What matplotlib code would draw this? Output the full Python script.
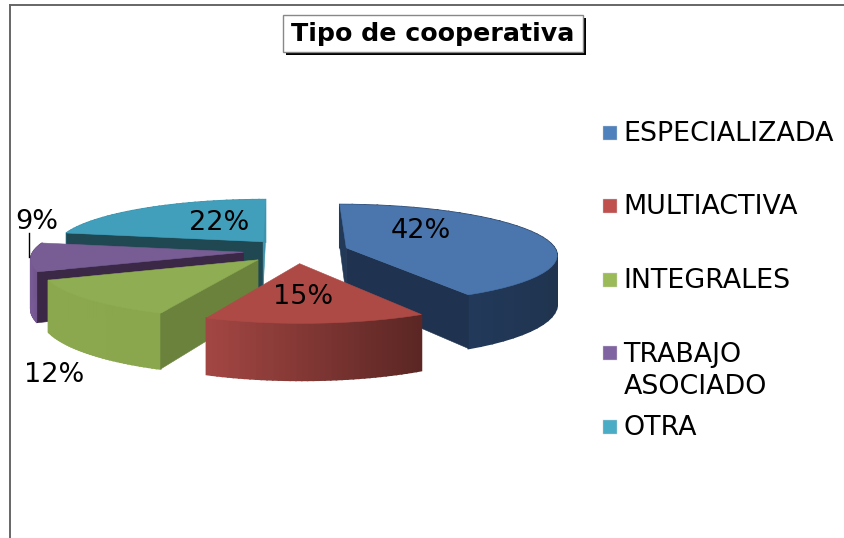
import numpy as np
import matplotlib
matplotlib.use('Agg')
import matplotlib.pyplot as plt
from matplotlib.patches import Polygon, Rectangle
from matplotlib.colors import to_rgb

# chart data
categories = ['ESPECIALIZADA', 'MULTIACTIVA', 'INTEGRALES', 'TRABAJO\nASOCIADO', 'OTRA']
values = [41.75, 14.6, 12.49, 9.2, 21.96]
title = 'Tipo de cooperativa'

# colours
legend_colors = ['#4f81bd', '#c0504d', '#9bbb59', '#8064a2', '#4bacc6']
top_colors = ['#4a76ad', '#ae4a46', '#8fad52', '#785c94', '#429fbb']
wall_start_colors = ['#223a58', '#5a2623', '#6a823c', '#3b2847', '#1f4853']
wall_end_colors = ['#1f3350', '#5a2623', '#6a823c', '#3b2847', '#3c93ad']
outer_left_colors = ['#24406a', '#a34643', '#8ba84f', '#7a5b96', '#3c93ad']
outer_right_colors = ['#20344f', '#5a2623', '#8aa74e', '#6a4f85', '#3c93ad']

# fake 3d camera, fitted by eye on the picture (pixels)
VX, VY = 285.5, -159.0
F, H, K = 210.0, 410.0, 0.12
DEPTH = 48.5
CX = 0.05
EXPLODE = 0.25
CAM = np.array([(0.0), -1.0 / K])

# label placement (pixels)
label_pos = [(421, 231), (303, 297), (54, 375), (37, 222), (219, 223)]
legend_y = [133, 206, 280, 353, 427]
legend_text_y = [134, 207, 281, 371, 428]


def project(x, y, z=0.0):
    den = 1 + K * y
    return VX + F * x / den, VY + (H + z) / den


def wall(ax, p0, p1, color, lw=0.4):
    x0, y0 = p0
    x1, y1 = p1
    pts = [project(x0, y0), project(x1, y1), project(x1, y1, DEPTH), project(x0, y0, DEPTH)]
    ax.add_patch(Polygon(pts, closed=True, facecolor=color, edgecolor=color, lw=lw))


def draw_wedge(ax, t0, t1, i):
    mid = np.radians((t0 + t1) / 2)
    apex = np.array([CX + EXPLODE * np.sin(mid), EXPLODE * np.cos(mid)])
    th = np.radians(np.linspace(t0, t1, 40))
    xs = apex[0] + np.sin(th)
    ys = apex[1] + np.cos(th)

    # outer curved wall, shaded left to right on the screen
    sx = project(xs, ys)[0]
    lo, hi = sx.min(), sx.max()
    c_l = np.array(to_rgb(outer_left_colors[i]))
    c_r = np.array(to_rgb(outer_right_colors[i]))
    for j in range(len(th) - 1):
        f = ((sx[j] + sx[j + 1]) / 2 - lo) / (hi - lo)
        wall(ax, (xs[j], ys[j]), (xs[j + 1], ys[j + 1]), tuple(c_l + (c_r - c_l) * f), lw=1.2)

    # flat walls, only when they face the camera
    n0 = np.radians(t0 - 90)
    n1 = np.radians(t1 + 90)
    if np.dot(CAM - apex, [np.sin(n0), np.cos(n0)]) > 0:
        wall(ax, apex, (xs[0], ys[0]), wall_start_colors[i])
    if np.dot(CAM - apex, [np.sin(n1), np.cos(n1)]) > 0:
        wall(ax, apex, (xs[-1], ys[-1]), wall_end_colors[i])

    # top face
    tx, ty = project(np.r_[apex[0], xs], np.r_[apex[1], ys])
    ax.add_patch(Polygon(np.c_[tx, ty], closed=True, facecolor=top_colors[i],
                         edgecolor=top_colors[i], lw=0.4))


fig = plt.figure(figsize=(8.44, 5.38), dpi=100)
ax = fig.add_axes([0, 0, 1, 1])
ax.set_xlim(0, 844)
ax.set_ylim(538, 0)
ax.axis('off')

# chart frame
ax.plot([10, 844], [5, 5], color='#666666', lw=1.4)
ax.plot([10, 10], [5, 538], color='#666666', lw=1.4)

# slices, back ones first
edges = np.r_[0, np.cumsum(values)] / np.sum(values) * 360
for i in [4, 3, 0, 2, 1]:
    draw_wedge(ax, edges[i], edges[i + 1], i)

# data labels
for v, (lx, ly) in zip(values, label_pos):
    ax.text(lx, ly, '%.0f%%' % v, fontsize=19.5, ha='center', va='center', color='black')
ax.plot([29, 29], [233, 257], color='black', lw=1)

# title box with its shadow
ax.add_patch(Rectangle((286, 18), 300, 37, facecolor='black', edgecolor='black', lw=0))
ax.add_patch(Rectangle((283, 15), 300, 37, facecolor='white', edgecolor='#888888', lw=1))
ax.text(432.5, 33.5, title, fontsize=18.2, fontweight='bold', ha='center', va='center', color='black')

# legend
for name, col, my, ty in zip(categories, legend_colors, legend_y, legend_text_y):
    ax.add_patch(Rectangle((603, my - 7), 14, 14, facecolor=col, edgecolor='#d0d0d0', lw=0.3))
    ax.text(623.5, ty, name, fontsize=19.4, ha='left', va='center', color='black', linespacing=1.25)

fig.savefig('out.png', dpi=100)
